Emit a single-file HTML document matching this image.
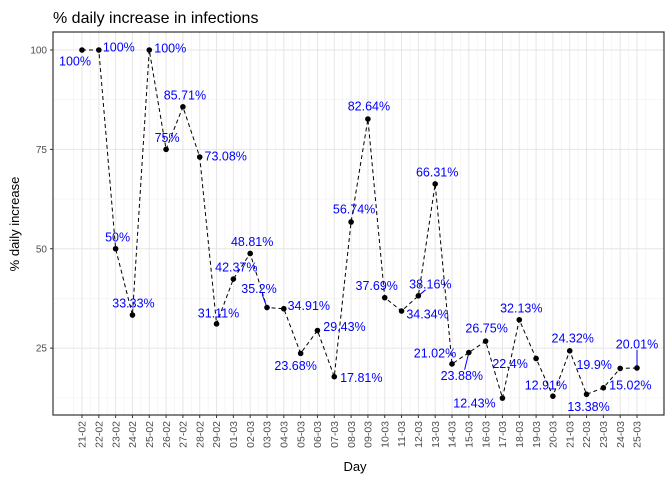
<!DOCTYPE html>
<html><head><meta charset="utf-8"><style>
body{margin:0;background:#fff;font-family:"Liberation Sans",Arial,sans-serif}
</style></head><body>
<svg id="chart" width="672" height="480" xmlns="http://www.w3.org/2000/svg">
<rect width="672" height="480" fill="#fff"/>
<text x="53" y="23" font-size="16" fill="#000">% daily increase in infections</text>
<text transform="translate(19,224) rotate(-90)" text-anchor="middle" font-size="13" fill="#000">% daily increase</text>
<text x="355" y="471" text-anchor="middle" font-size="13" fill="#000">Day</text>
<g id="grid"></g><g id="marks"></g><g id="axes"></g>
<rect x="53" y="32" width="611" height="383" fill="none" stroke="#333" stroke-width="1.2"/>
</svg>
<script>
const categories=["21-02","22-02","23-02","24-02","25-02","26-02","27-02","28-02","29-02","01-03","02-03","03-03","04-03","05-03","06-03","07-03","08-03","09-03","10-03","11-03","12-03","13-03","14-03","15-03","16-03","17-03","18-03","19-03","20-03","21-03","22-03","23-03","24-03","25-03"];
const values=[100,100,50,33.33,100,75,85.71,73.08,31.11,42.37,48.81,35.2,34.91,23.68,29.43,17.81,56.74,82.64,37.69,34.34,38.16,66.31,21.02,23.88,26.75,12.43,32.13,22.4,12.91,24.32,13.38,15.02,19.9,20.01];
const labels=["100%","100%","50%","33.33%","100%","75%","85.71%","73.08%","31.11%","42.37%","48.81%","35.2%","34.91%","23.68%","29.43%","17.81%","56.74%","82.64%","37.69%","34.34%","38.16%","66.31%","21.02%","23.88%","26.75%","12.43%","32.13%","22.4%","12.91%","24.32%","13.38%","15.02%","19.9%","20.01%"];
const yTicks=[25,50,75,100];
const offs=[[-7,11],[20,-3],[2,-12],[1,-12],[21,-2],[1,-12],[2,-12],[26,-1],[2,-11],[3,-12],[2,-12],[-8,-19],[25,-3],[-5,12],[27,-4],[27,1],[3,-13],[1,-13],[-8,-12],[26,3],[12,-12],[2,-12],[-17,-11],[-7,23],[1,-13],[-28,5],[2,-12],[-26,5],[-7,-11],[3,-13],[2,12],[27,-3],[-26,-4],[0,-24]];
const seg=[11,20,23,33];
const NS="http://www.w3.org/2000/svg";
const x=i=>82+i*(637-82)/(categories.length-1);
const y=v=>50+(100-v)*3.975;
function mk(t,a,p){const e=document.createElementNS(NS,t);for(const k in a)e.setAttribute(k,a[k]);p.appendChild(e);return e;}
const grid=document.getElementById('grid'),marks=document.getElementById('marks'),axes=document.getElementById('axes');
for(let i=-0.5;i<categories.length+1;i+=1){const xx=x(i);if(xx>53&&xx<664)mk('line',{x1:xx,x2:xx,y1:32,y2:415,stroke:'#f0f0f0','stroke-width':0.6},grid);}
[12.5,37.5,62.5,87.5].forEach(v=>mk('line',{x1:53,x2:664,y1:y(v),y2:y(v),stroke:'#f0f0f0','stroke-width':0.6},grid));
categories.forEach((c,i)=>{mk('line',{x1:x(i),x2:x(i),y1:32,y2:415,stroke:'#e6e6e6','stroke-width':1},grid);
 const t=mk('text',{transform:`translate(${x(i)+3.7},421) rotate(-90)`,'text-anchor':'end','font-size':'10.5',fill:'#4d4d4d'},axes);t.textContent=c;
 
 
 mk('line',{x1:x(i),x2:x(i),y1:415,y2:418,stroke:'#333'},axes);});
yTicks.forEach(v=>{mk('line',{x1:53,x2:664,y1:y(v),y2:y(v),stroke:'#e6e6e6','stroke-width':1},grid);
 const t=mk('text',{x:47,y:y(v)+3.5,'text-anchor':'end','font-size':'10',fill:'#4d4d4d'},axes);t.textContent=v;
 
 
 mk('line',{x1:50,x2:53,y1:y(v),y2:y(v),stroke:'#333'},axes);});
const line=mk('polyline',{points:values.map((v,i)=>x(i)+','+y(v)).join(' '),fill:'none',stroke:'#000','stroke-width':1,'stroke-dasharray':'4,3'},marks);


values.forEach((v,i)=>{
 if(seg.includes(i)){const tx=x(i)+offs[i][0],ty=y(v)+offs[i][1];mk('line',{x1:x(i),y1:y(v),x2:tx-(offs[i][0]*0.4),y2:ty+(offs[i][1]<0?6:-6),stroke:'#0000ff','stroke-width':1},marks);}
 const c=mk('circle',{cx:x(i),cy:y(v),r:2.8,fill:'#000'},marks);
 
 
 const t=mk('text',{x:x(i)+offs[i][0],y:y(v)+offs[i][1]+4.5,'text-anchor':'middle','font-size':'12.5',fill:'#0000ff'},marks);t.textContent=labels[i];
 
 
});
</script>
</body></html>
